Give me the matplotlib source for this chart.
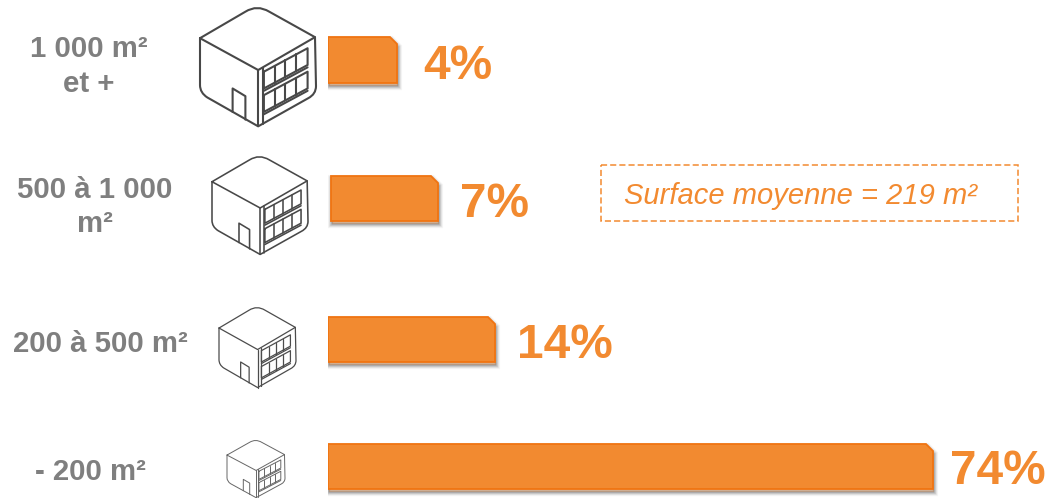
import numpy as np
import matplotlib
matplotlib.use("Agg")
import matplotlib.pyplot as plt
from matplotlib.path import Path
from matplotlib.patches import PathPatch, Polygon, Rectangle
from matplotlib.transforms import Affine2D
import matplotlib.patheffects as pe

# Survey results by floor-area class
categories = ["1 000 m²\net +", "500 à 1 000\nm²", "200 à 500 m²", "- 200 m²"]
shares = [4, 7, 14, 74]
share_labels = ["4%", "7%", "14%", "74%"]
note_text = "Surface moyenne = 219 m²"

# Display calibration of the share axis (share -> bar length in pixels)
scale_shares = np.array([0, 4, 7, 14, 74, 100], dtype=float)
scale_lengths = np.array([0, 69, 107, 167, 605, 795], dtype=float)

W, H = 1048, 498
ORANGE = "#F28A30"
EDGE = "#F07412"
GREY = "#7F7F7F"
FONT = ["Liberation Sans", "DejaVu Sans"]

# Row layout, in pixels from the top-left corner
bar_tops = [37, 176, 317, 444]
bar_bottoms = [83, 221, 362, 489]
bar_shift = [0, 3, 0, 0]
label_pos = [(89, 66.5), (95, 207), (100, 344), (90, 472)]
value_pos = [(423, 66), (460, 204), (517, 345), (950, 471)]
icon_boxes = [(200, 7, 316, 127), (212, 156, 308, 255),
              (219, 307, 296, 388), (227, 440, 285, 498)]
icon_widths = [1.5, 1.15, 0.9, 0.7]
icon_colors = ["#484848", "#484848", "#4c4c4c", "#666666"]


def forward(v):
    return np.interp(v, scale_shares, scale_lengths)


def inverse(p):
    return np.interp(p, scale_lengths, scale_shares)


fig = plt.figure(figsize=(W / 100, H / 100), dpi=100, facecolor="white")

# Overlay in pixel coordinates for text and pictograms
canvas = fig.add_axes([0, 0, 1, 1])
canvas.set_xlim(0, W)
canvas.set_ylim(H, 0)
canvas.axis("off")

# Bars live on their own axes with the share scale
ax = fig.add_axes([328 / W, 0, (W - 328) / W, 1])
ax.patch.set_alpha(0)
ax.set_xscale("function", functions=(forward, inverse))
ax.set_xlim(0, inverse(W - 328))
ax.set_ylim(H, 0)
ax.axis("off")

# Soft drop shadow built from widening translucent strokes
shadow = [
    pe.Stroke(linewidth=w, foreground="#000000", alpha=a, offset=(0.7, -off))
    for w, a, off in [(6.0, 0.03, 2.2), (5.0, 0.04, 2.2), (4.0, 0.05, 2.2),
                      (3.0, 0.07, 2.2), (2.0, 0.09, 2.2), (1.0, 0.10, 2.2)]
] + [pe.Normal()]

CORNER = 7
for value, top, bottom, shift in zip(shares, bar_tops, bar_bottoms, bar_shift):
    notch = inverse(forward(value) - CORNER)
    verts = [(0, top), (notch, top), (value, top + CORNER), (value, bottom), (0, bottom)]
    bar = Polygon(verts, closed=True, facecolor=ORANGE, edgecolor=EDGE, linewidth=1.3,
                  joinstyle="miter",
                  transform=ax.transData + Affine2D().translate(shift, 0))
    bar.set_path_effects(shadow)
    ax.add_patch(bar)

for text, (x, y) in zip(categories, label_pos):
    canvas.text(x, y, text, ha="center", va="center", fontsize=21.2, fontweight="bold",
                color=GREY, family=FONT, linespacing=1.3)

for text, (x, y) in zip(share_labels, value_pos):
    canvas.text(x, y, text, ha="left", va="center", fontsize=34.4, fontweight="bold",
                color=ORANGE, family=FONT)

canvas.add_patch(Rectangle((601, 165), 417, 56, fill=False, edgecolor=ORANGE, linewidth=1.1,
                           linestyle=(0, (4, 2))))
canvas.text(624, 196, note_text, ha="left", va="center", fontsize=21.0, style="italic",
            color=ORANGE, family=FONT)


def draw_icon(box, lw, color):
    """Isometric building pictogram fitted into a pixel box."""
    x0, y0, x1, y1 = box
    to_px = lambda p: (x0 + (p[0] - 30) / 345 * (x1 - x0), y0 + (p[1] - 22) / 358 * (y1 - y0))

    M, L, Q = Path.MOVETO, Path.LINETO, Path.CURVE3
    segs = [
        # roof
        [(M, (30, 115)), (L, (165, 36)), (Q, (200, 14)), (Q, (236, 36)), (L, (372, 112)),
         (L, (203, 210)), (L, (30, 115))],
        # walls
        [(M, (30, 115)), (L, (30, 255)), (Q, (30, 278)), (Q, (52, 292)), (L, (203, 378)),
         (L, (352, 294)), (Q, (375, 282)), (Q, (375, 258)), (L, (372, 112))],
        [(M, (203, 210)), (L, (203, 378))],
        [(M, (216, 204)), (L, (216, 371))],
        # door
        [(M, (127, 335)), (L, (127, 265)), (L, (165, 288)), (L, (165, 358))],
    ]
    rise = 70
    for ya, yb in [(215, 265), (285, 335)]:
        segs.append([(M, (220, ya)), (L, (350, ya - rise)), (L, (350, yb - rise)),
                     (L, (220, yb)), (L, (220, ya))])
        segs.append([(M, (220, yb + 7)), (L, (350, yb + 7 - rise))])
        for xd in (252, 284, 316):
            t = (xd - 220) / 130
            segs.append([(M, (xd, ya - rise * t)), (L, (xd, yb - rise * t))])

    for seg in segs:
        codes = [c for c, _ in seg]
        pts = [to_px(p) for _, p in seg]
        canvas.add_patch(PathPatch(Path(pts, codes), fill=False, edgecolor=color,
                                   linewidth=lw, joinstyle="round", capstyle="round"))


for box, lw, color in zip(icon_boxes, icon_widths, icon_colors):
    draw_icon(box, lw, color)

fig.savefig("out.png", dpi=100, facecolor="white")
